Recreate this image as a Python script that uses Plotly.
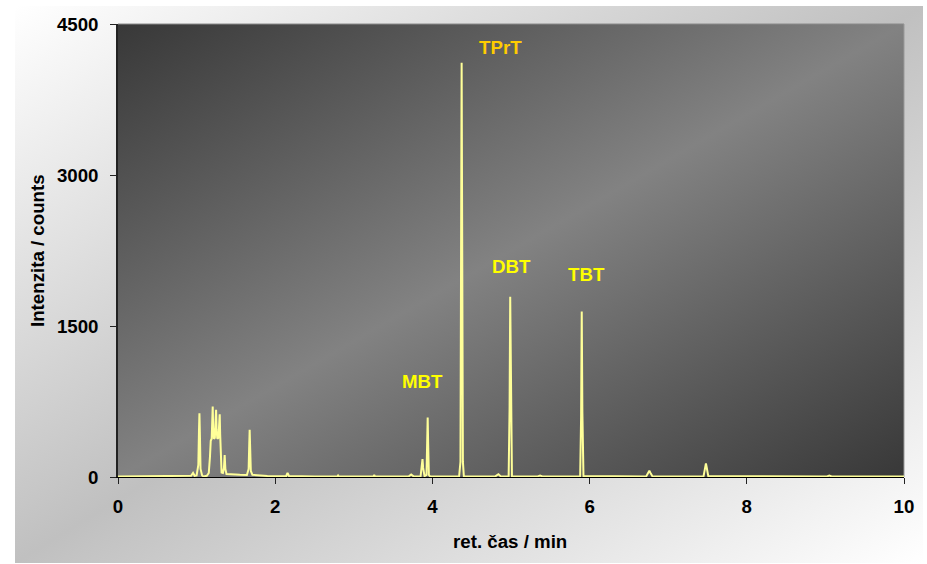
import base64
import plotly.graph_objects as go

# ---- data ----
time_min = [0.0, 0.3, 0.6, 0.88, 0.93, 0.955, 0.975, 1.0, 1.022, 1.030, 1.036, 1.042, 1.05, 1.07, 1.09,
            1.13, 1.155, 1.170, 1.180, 1.192, 1.200, 1.205, 1.211, 1.220, 1.232, 1.242, 1.248, 1.254,
            1.264, 1.278, 1.288, 1.294, 1.300, 1.308, 1.318, 1.335, 1.348, 1.357, 1.366, 1.38, 1.45,
            1.55, 1.64, 1.662, 1.670, 1.675, 1.681, 1.69, 1.71, 1.80, 1.90, 2.0, 2.14, 2.157, 2.175,
            2.5, 2.79, 2.80, 2.81, 3.25, 3.26, 3.27, 3.70, 3.73, 3.76, 3.85, 3.866, 3.874, 3.882, 3.90,
            3.925, 3.934, 3.940, 3.946, 3.955, 3.97, 4.34, 4.357, 4.366, 4.372, 4.378, 4.388, 4.40,
            4.80, 4.84, 4.87, 4.97, 4.982, 4.990, 4.998, 5.012, 5.34, 5.37, 5.40, 5.88, 5.892, 5.900,
            5.908, 5.922, 6.72, 6.745, 6.76, 6.775, 6.80, 7.45, 7.47, 7.48, 7.49, 7.51, 9.02, 9.05,
            9.08, 10.0]
intensity = [5, 6, 5, 6, 12, 40, 12, 15, 120, 450, 634, 430, 80, 15, 5,
             12, 40, 200, 360, 380, 560, 700, 480, 380, 390, 560, 667, 470,
             380, 390, 540, 624, 420, 150, 45, 40, 90, 219, 80, 30, 25,
             22, 20, 80, 330, 468, 300, 60, 22, 15, 10, 8, 10, 40, 10,
             6, 5, 15, 5, 6, 20, 6, 6, 25, 6, 8, 100, 177, 90, 8,
             20, 350, 590, 330, 20, 6, 6, 150, 2500, 4115, 2600, 150, 8,
             6, 28, 6, 8, 700, 1790, 700, 8, 6, 14, 6, 8, 600, 1643,
             650, 10, 6, 40, 62, 40, 6, 8, 90, 135, 95, 8, 5, 14,
             5, 5]

peak_labels = ["MBT", "TPrT", "DBT", "TBT"]
x_ticks = [0, 2, 4, 6, 8, 10]
y_ticks = [0, 1500, 3000, 4500]

FONT = "Liberation Sans, Arial, sans-serif"


def gradient_svg(c_end, c_mid):
    svg = (
        '<svg xmlns="http://www.w3.org/2000/svg" width="200" height="200" '
        'viewBox="0 0 200 200" preserveAspectRatio="none">'
        '<defs><linearGradient id="g" x1="0" y1="0" x2="1" y2="1">'
        f'<stop offset="0" stop-color="{c_end}"/>'
        f'<stop offset="0.5" stop-color="{c_mid}"/>'
        f'<stop offset="1" stop-color="{c_end}"/>'
        '</linearGradient></defs>'
        '<rect x="0" y="0" width="200" height="200" fill="url(#g)"/></svg>'
    )
    return "data:image/svg+xml;base64," + base64.b64encode(svg.encode()).decode()


# plot area pixel geometry
W, H = 927, 564
L, R, T, B = 118, 23, 24, 87
pw, ph = W - L - R, H - T - B


def px_to_paper_x(px):
    return (px - L) / pw


def px_to_paper_y(py):
    return (H - B - py) / ph


fig = go.Figure()
fig.add_trace(go.Scatter(
    x=time_min, y=intensity, mode="lines",
    line=dict(color="#FFFF99", width=2),
    hoverinfo="skip", showlegend=False,
))

outer_x0, outer_x1, outer_y0, outer_y1 = 15, 923, 6, 563
images = [
    dict(source=gradient_svg("#ffffff", "#c0c0c0"), xref="paper", yref="paper",
         x=px_to_paper_x(outer_x0), y=px_to_paper_y(outer_y0),
         sizex=(outer_x1 - outer_x0) / pw, sizey=(outer_y1 - outer_y0) / ph,
         xanchor="left", yanchor="top", sizing="stretch", layer="below"),
    dict(source=gradient_svg("#383838", "#828282"), xref="paper", yref="paper",
         x=0, y=1, sizex=1, sizey=1,
         xanchor="left", yanchor="top", sizing="stretch", layer="below"),
]

label_pos = {"MBT": (3.88, 945), "TPrT": (4.87, 4270), "DBT": (5.01, 2090), "TBT": (5.96, 2010)}
label_col = {"MBT": "#FFFF00", "TPrT": "#FFCC00", "DBT": "#FFFF00", "TBT": "#FFFF00"}
annotations = []
for name in peak_labels:
    ax_, ay_ = label_pos[name]
    annotations.append(dict(x=ax_, y=ay_, xref="x", yref="y", text=name, showarrow=False,
                            xanchor="center", yanchor="middle",
                            font=dict(family=FONT, size=18.7, color=label_col[name], weight="bold")))
annotations.append(dict(x=px_to_paper_x(37), y=px_to_paper_y(251), xref="paper", yref="paper",
                        text="Intenzita / counts", textangle=-90, showarrow=False,
                        xanchor="center", yanchor="middle",
                        font=dict(family=FONT, size=18.7, color="#000000", weight="bold")))
annotations.append(dict(x=px_to_paper_x(510), y=px_to_paper_y(541), xref="paper", yref="paper",
                        text="ret. čas / min", showarrow=False,
                        xanchor="center", yanchor="middle",
                        font=dict(family=FONT, size=18.7, color="#000000", weight="bold")))

fig.update_layout(
    width=W, height=H,
    margin=dict(l=L, r=R, t=T, b=B, pad=0),
    paper_bgcolor="#ffffff", plot_bgcolor="rgba(0,0,0,0)",
    images=images, annotations=annotations,
    shapes=[dict(type="line", xref="paper", yref="paper", x0=0, x1=1, y0=1, y1=1,
                 line=dict(color="#8a8a8a", width=1), layer="below"),
            dict(type="line", xref="paper", yref="paper", x0=1, x1=1, y0=0, y1=1,
                 line=dict(color="#9a9a9a", width=1), layer="below")],
    xaxis=dict(range=[0, 10], tickvals=x_ticks, ticktext=[str(v) for v in x_ticks],
               showgrid=False, zeroline=False, showline=True, linecolor="#000000", linewidth=1,
               ticks="outside", ticklen=6, tickcolor="#222222", layer="below traces",
               ticklabelstandoff=7,
               tickfont=dict(family=FONT, size=18.7, color="#000000", weight="bold")),
    yaxis=dict(range=[0, 4500], tickvals=y_ticks, ticktext=[str(v) for v in y_ticks],
               showgrid=False, zeroline=False, showline=True, linecolor="#222222", linewidth=1.5,
               ticks="outside", ticklen=6, tickcolor="#222222", layer="below traces",
               ticklabelstandoff=8,
               tickfont=dict(family=FONT, size=18.7, color="#000000", weight="bold")),
)

fig.write_html("out.html")
